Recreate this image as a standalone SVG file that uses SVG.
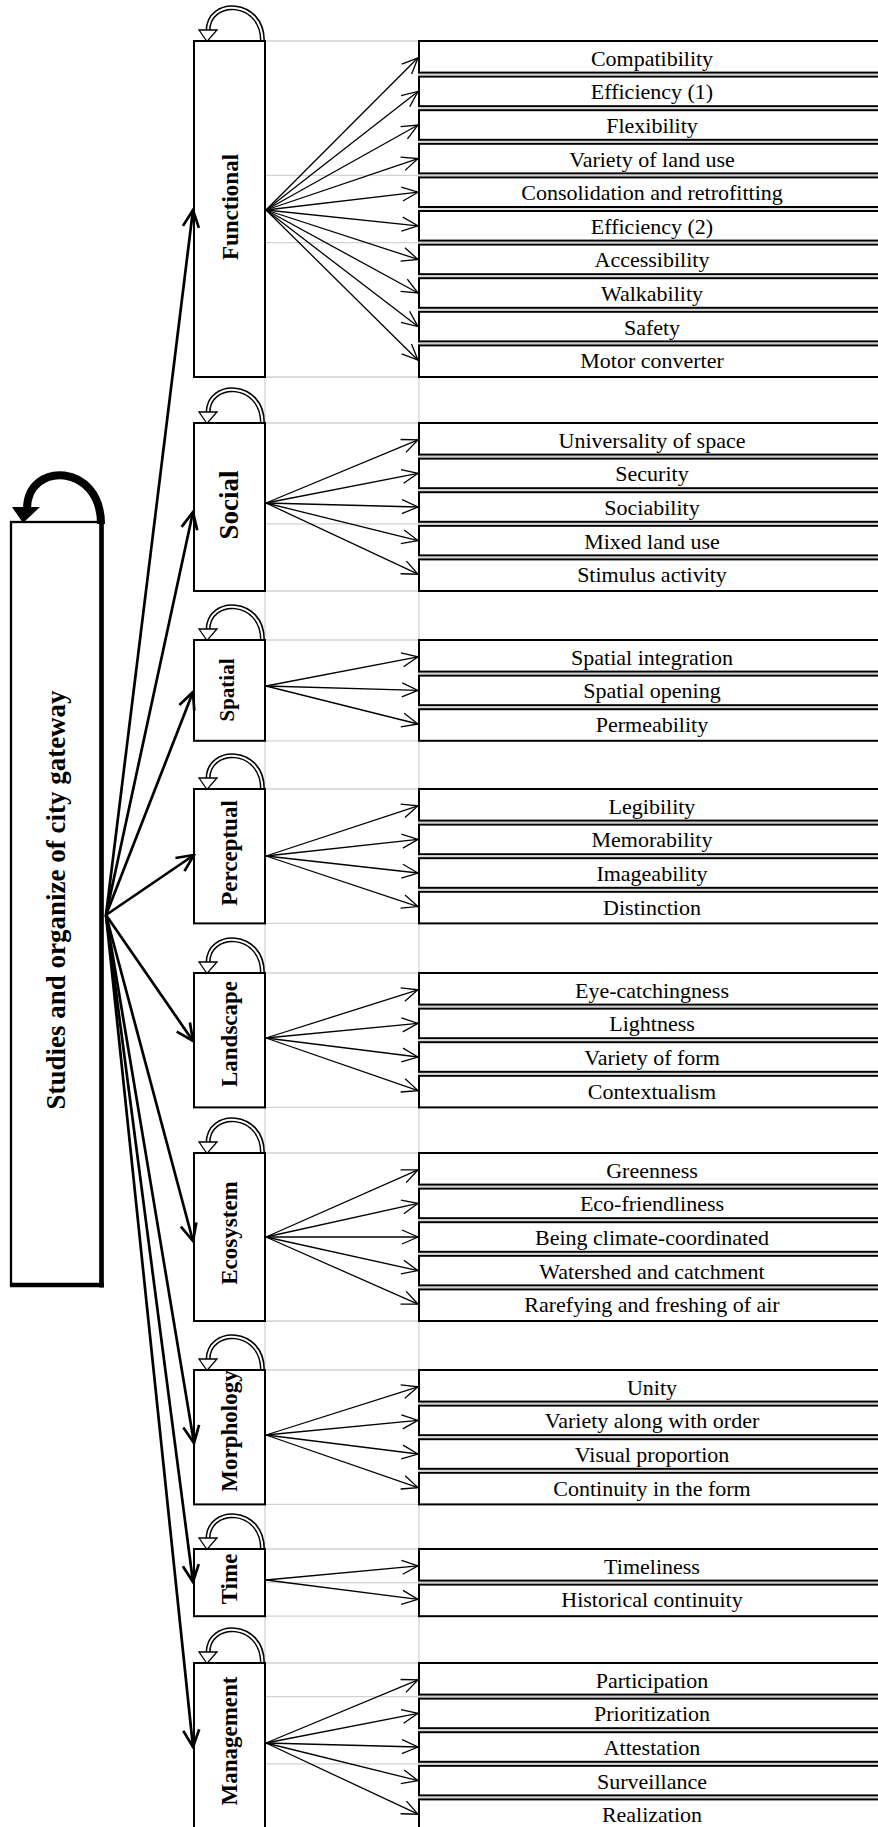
<svg xmlns="http://www.w3.org/2000/svg" xmlns:xlink="http://www.w3.org/1999/xlink" width="878" height="1827" viewBox="0 0 878 1827">
<style>
.grid{stroke:#d2d2d2;stroke-width:1.3;fill:none}
.cat{fill:#fff;stroke:#000;stroke-width:2}
.item{fill:#fff;stroke:#000;stroke-width:2}
.sep{stroke:#c8c8c8;stroke-width:1}
.it{font-family:"Liberation Serif","Times New Roman",serif;font-size:22px;text-anchor:middle;fill:#000}
.ct{font-family:"Liberation Serif","Times New Roman",serif;font-weight:bold;font-size:23px;text-anchor:middle;fill:#000}
.thin{stroke:#000;stroke-width:1.3;fill:none;marker-end:url(#ah)}
.thick{stroke:#000;stroke-width:2.7;fill:none;marker-end:url(#ahb)}
</style>
<defs>
<marker id="ah" viewBox="0 0 20 20" refX="19" refY="10" markerWidth="20" markerHeight="20" markerUnits="userSpaceOnUse" orient="auto">
<path d="M3,3 L19,10 L3,17" fill="none" stroke="#000" stroke-width="1.3"/>
</marker>
<marker id="ahb" viewBox="0 0 22 22" refX="20" refY="11" markerWidth="22" markerHeight="22" markerUnits="userSpaceOnUse" orient="auto">
<path d="M3,3 L20,11 L3,19" fill="none" stroke="#000" stroke-width="2.7"/>
</marker>
<g id="loop">
<path d="M262.5 0 C262.5 -42 208 -43 208 -10" fill="none" stroke="#000" stroke-width="5"/>
<path d="M262.5 0.5 C262.5 -42 208 -43 208 -10" fill="none" stroke="#fff" stroke-width="2"/>
<polygon points="199,-11 217,-11 207,0.5" fill="#fff" stroke="#000" stroke-width="1.3"/>
</g>
</defs>
<rect width="878" height="1827" fill="#fff"/>
<g id="grid">
<line class="grid" x1="265" y1="41" x2="265" y2="1827"/>
<line class="grid" x1="419" y1="41" x2="419" y2="1827"/>
<path class="grid" d="M265 41H419M265 175.4H419M265 242.6H419M265 377H419M265 423H419M265 523.8H419M265 591H419M265 640H419M265 740.8H419M265 789H419M265 923.4H419M265 973H419M265 1107.4H419M265 1153H419M265 1321H419M265 1370H419M265 1504.4H419M265 1549H419M265 1582.6H419M265 1616.2H419M265 1663H419M265 1696.6H419M265 1763.8H419"/>
</g>
<g id="main">
<rect x="11" y="522" width="90.5" height="763" fill="#fff" stroke="#000" stroke-width="2.3"/>
<line x1="101.5" y1="520" x2="101.5" y2="1287.4" stroke="#000" stroke-width="4.7"/>
<line x1="10" y1="1285" x2="104" y2="1285" stroke="#000" stroke-width="4.7"/>
<path d="M101 524 C101 463 28 461 27 508" fill="none" stroke="#000" stroke-width="8"/>
<polygon points="12,507 40,507 23,523" fill="#000"/>
<text class="ct" style="font-size:27px" transform="translate(65,900) rotate(-90)">Studies and organize of city gateway</text>
</g>
<g id="functional">
<use xlink:href="#loop" href="#loop" y="41"/>
<rect class="cat" x="194" y="41" width="71" height="336"/>
<text class="ct" transform="translate(238,207) rotate(-90)">Functional</text>
<rect class="item" x="419" y="41" width="481" height="31.6"/>
<rect class="item" x="419" y="76.6" width="481" height="29.6"/>
<rect class="item" x="419" y="110.2" width="481" height="29.6"/>
<rect class="item" x="419" y="143.8" width="481" height="29.6"/>
<rect class="item" x="419" y="177.4" width="481" height="29.6"/>
<rect class="item" x="419" y="211" width="481" height="29.6"/>
<rect class="item" x="419" y="244.6" width="481" height="29.6"/>
<rect class="item" x="419" y="278.2" width="481" height="29.6"/>
<rect class="item" x="419" y="311.8" width="481" height="29.6"/>
<rect class="item" x="419" y="345.4" width="481" height="31.6"/>
<path class="sep" d="M420 74.6H878M420 108.2H878M420 141.8H878M420 175.4H878M420 209H878M420 242.6H878M420 276.2H878M420 309.8H878M420 343.4H878"/>
<text class="it" x="652" y="65.8">Compatibility</text>
<text class="it" x="652" y="99.4">Efficiency (1)</text>
<text class="it" x="652" y="133">Flexibility</text>
<text class="it" x="652" y="166.6">Variety of land use</text>
<text class="it" x="652" y="200.2">Consolidation and retrofitting</text>
<text class="it" x="652" y="233.8">Efficiency (2)</text>
<text class="it" x="652" y="267.4">Accessibility</text>
<text class="it" x="652" y="301">Walkability</text>
<text class="it" x="652" y="334.6">Safety</text>
<text class="it" x="652" y="368.2">Motor converter</text>
</g>
<g id="social">
<use xlink:href="#loop" href="#loop" y="423"/>
<rect class="cat" x="194" y="423" width="71" height="168"/>
<text class="ct" style="font-size:27px" transform="translate(238,505) rotate(-90)">Social</text>
<rect class="item" x="419" y="423" width="481" height="31.6"/>
<rect class="item" x="419" y="458.6" width="481" height="29.6"/>
<rect class="item" x="419" y="492.2" width="481" height="29.6"/>
<rect class="item" x="419" y="525.8" width="481" height="29.6"/>
<rect class="item" x="419" y="559.4" width="481" height="31.6"/>
<path class="sep" d="M420 456.6H878M420 490.2H878M420 523.8H878M420 557.4H878"/>
<text class="it" x="652" y="447.8">Universality of space</text>
<text class="it" x="652" y="481.4">Security</text>
<text class="it" x="652" y="515">Sociability</text>
<text class="it" x="652" y="548.6">Mixed land use</text>
<text class="it" x="652" y="582.2">Stimulus activity</text>
</g>
<g id="spatial">
<use xlink:href="#loop" href="#loop" y="640"/>
<rect class="cat" x="194" y="640" width="71" height="100.8"/>
<text class="ct" style="font-size:21px" transform="translate(234,690) rotate(-90)">Spatial</text>
<rect class="item" x="419" y="640" width="481" height="31.6"/>
<rect class="item" x="419" y="675.6" width="481" height="29.6"/>
<rect class="item" x="419" y="709.2" width="481" height="31.6"/>
<path class="sep" d="M420 673.6H878M420 707.2H878"/>
<text class="it" x="652" y="664.8">Spatial integration</text>
<text class="it" x="652" y="698.4">Spatial opening</text>
<text class="it" x="652" y="732">Permeability</text>
</g>
<g id="perceptual">
<use xlink:href="#loop" href="#loop" y="789"/>
<rect class="cat" x="194" y="789" width="71" height="134.4"/>
<text class="ct" transform="translate(237,853) rotate(-90)">Perceptual</text>
<rect class="item" x="419" y="789" width="481" height="31.6"/>
<rect class="item" x="419" y="824.6" width="481" height="29.6"/>
<rect class="item" x="419" y="858.2" width="481" height="29.6"/>
<rect class="item" x="419" y="891.8" width="481" height="31.6"/>
<path class="sep" d="M420 822.6H878M420 856.2H878M420 889.8H878"/>
<text class="it" x="652" y="813.8">Legibility</text>
<text class="it" x="652" y="847.4">Memorability</text>
<text class="it" x="652" y="881">Imageability</text>
<text class="it" x="652" y="914.6">Distinction</text>
</g>
<g id="landscape">
<use xlink:href="#loop" href="#loop" y="973"/>
<rect class="cat" x="194" y="973" width="71" height="134.4"/>
<text class="ct" transform="translate(237,1034) rotate(-90)">Landscape</text>
<rect class="item" x="419" y="973" width="481" height="31.6"/>
<rect class="item" x="419" y="1008.6" width="481" height="29.6"/>
<rect class="item" x="419" y="1042.2" width="481" height="29.6"/>
<rect class="item" x="419" y="1075.8" width="481" height="31.6"/>
<path class="sep" d="M420 1006.6H878M420 1040.2H878M420 1073.8H878"/>
<text class="it" x="652" y="997.8">Eye-catchingness</text>
<text class="it" x="652" y="1031.4">Lightness</text>
<text class="it" x="652" y="1065">Variety of form</text>
<text class="it" x="652" y="1098.6">Contextualism</text>
</g>
<g id="ecosystem">
<use xlink:href="#loop" href="#loop" y="1153"/>
<rect class="cat" x="194" y="1153" width="71" height="168"/>
<text class="ct" transform="translate(237,1233) rotate(-90)">Ecosystem</text>
<rect class="item" x="419" y="1153" width="481" height="31.6"/>
<rect class="item" x="419" y="1188.6" width="481" height="29.6"/>
<rect class="item" x="419" y="1222.2" width="481" height="29.6"/>
<rect class="item" x="419" y="1255.8" width="481" height="29.6"/>
<rect class="item" x="419" y="1289.4" width="481" height="31.6"/>
<path class="sep" d="M420 1186.6H878M420 1220.2H878M420 1253.8H878M420 1287.4H878"/>
<text class="it" x="652" y="1177.8">Greenness</text>
<text class="it" x="652" y="1211.4">Eco-friendliness</text>
<text class="it" x="652" y="1245">Being climate-coordinated</text>
<text class="it" x="652" y="1278.6">Watershed and catchment</text>
<text class="it" x="652" y="1312.2">Rarefying and freshing of air</text>
</g>
<g id="morphology">
<use xlink:href="#loop" href="#loop" y="1370"/>
<rect class="cat" x="194" y="1370" width="71" height="134.4"/>
<text class="ct" transform="translate(237,1431) rotate(-90)">Morphology</text>
<rect class="item" x="419" y="1370" width="481" height="31.6"/>
<rect class="item" x="419" y="1405.6" width="481" height="29.6"/>
<rect class="item" x="419" y="1439.2" width="481" height="29.6"/>
<rect class="item" x="419" y="1472.8" width="481" height="31.6"/>
<path class="sep" d="M420 1403.6H878M420 1437.2H878M420 1470.8H878"/>
<text class="it" x="652" y="1394.8">Unity</text>
<text class="it" x="652" y="1428.4">Variety along with order</text>
<text class="it" x="652" y="1462">Visual proportion</text>
<text class="it" x="652" y="1495.6">Continuity in the form</text>
</g>
<g id="time">
<use xlink:href="#loop" href="#loop" y="1549"/>
<rect class="cat" x="194" y="1549" width="71" height="67.2"/>
<text class="ct" transform="translate(237,1579) rotate(-90)">Time</text>
<rect class="item" x="419" y="1549" width="481" height="31.6"/>
<rect class="item" x="419" y="1584.6" width="481" height="31.6"/>
<path class="sep" d="M420 1582.6H878"/>
<text class="it" x="652" y="1573.8">Timeliness</text>
<text class="it" x="652" y="1607.4">Historical continuity</text>
</g>
<g id="management">
<use xlink:href="#loop" href="#loop" y="1663"/>
<rect class="cat" x="194" y="1663" width="71" height="168"/>
<text class="ct" transform="translate(237,1741) rotate(-90)">Management</text>
<rect class="item" x="419" y="1663" width="481" height="31.6"/>
<rect class="item" x="419" y="1698.6" width="481" height="29.6"/>
<rect class="item" x="419" y="1732.2" width="481" height="29.6"/>
<rect class="item" x="419" y="1765.8" width="481" height="29.6"/>
<rect class="item" x="419" y="1799.4" width="481" height="31.6"/>
<path class="sep" d="M420 1696.6H878M420 1730.2H878M420 1763.8H878M420 1797.4H878"/>
<text class="it" x="652" y="1687.8">Participation</text>
<text class="it" x="652" y="1721.4">Prioritization</text>
<text class="it" x="652" y="1755">Attestation</text>
<text class="it" x="652" y="1788.6">Surveillance</text>
<text class="it" x="652" y="1822.2">Realization</text>
</g>
<g id="connectors">
<line class="thick" x1="106" y1="915" x2="193" y2="210"/>
<line class="thick" x1="106" y1="915" x2="193" y2="512"/>
<line class="thick" x1="106" y1="915" x2="193" y2="692"/>
<line class="thick" x1="106" y1="915" x2="194" y2="855"/>
<line class="thick" x1="106" y1="915" x2="193" y2="1041"/>
<line class="thick" x1="106" y1="915" x2="193" y2="1241"/>
<line class="thick" x1="106" y1="915" x2="194" y2="1443"/>
<line class="thick" x1="106" y1="915" x2="193" y2="1582"/>
<line class="thick" x1="106" y1="915" x2="193" y2="1747"/>
<line class="thin" x1="266" y1="210" x2="418" y2="57.8"/>
<line class="thin" x1="266" y1="210" x2="418" y2="91.4"/>
<line class="thin" x1="266" y1="210" x2="418" y2="125"/>
<line class="thin" x1="266" y1="210" x2="418" y2="158.6"/>
<line class="thin" x1="266" y1="210" x2="418" y2="192.2"/>
<line class="thin" x1="266" y1="210" x2="418" y2="225.8"/>
<line class="thin" x1="266" y1="210" x2="418" y2="259.4"/>
<line class="thin" x1="266" y1="210" x2="418" y2="293"/>
<line class="thin" x1="266" y1="210" x2="418" y2="326.6"/>
<line class="thin" x1="266" y1="210" x2="418" y2="360.2"/>
<line class="thin" x1="266" y1="503" x2="418" y2="439.8"/>
<line class="thin" x1="266" y1="503" x2="418" y2="473.4"/>
<line class="thin" x1="266" y1="503" x2="418" y2="507"/>
<line class="thin" x1="266" y1="503" x2="418" y2="540.6"/>
<line class="thin" x1="266" y1="503" x2="418" y2="574.2"/>
<line class="thin" x1="266" y1="686" x2="418" y2="656.8"/>
<line class="thin" x1="266" y1="686" x2="418" y2="690.4"/>
<line class="thin" x1="266" y1="686" x2="418" y2="724"/>
<line class="thin" x1="266" y1="856" x2="418" y2="805.8"/>
<line class="thin" x1="266" y1="856" x2="418" y2="839.4"/>
<line class="thin" x1="266" y1="856" x2="418" y2="873"/>
<line class="thin" x1="266" y1="856" x2="418" y2="906.6"/>
<line class="thin" x1="266" y1="1038" x2="418" y2="989.8"/>
<line class="thin" x1="266" y1="1038" x2="418" y2="1023.4"/>
<line class="thin" x1="266" y1="1038" x2="418" y2="1057"/>
<line class="thin" x1="266" y1="1038" x2="418" y2="1090.6"/>
<line class="thin" x1="266" y1="1237" x2="418" y2="1169.8"/>
<line class="thin" x1="266" y1="1237" x2="418" y2="1203.4"/>
<line class="thin" x1="266" y1="1237" x2="418" y2="1237"/>
<line class="thin" x1="266" y1="1237" x2="418" y2="1270.6"/>
<line class="thin" x1="266" y1="1237" x2="418" y2="1304.2"/>
<line class="thin" x1="266" y1="1435" x2="418" y2="1386.8"/>
<line class="thin" x1="266" y1="1435" x2="418" y2="1420.4"/>
<line class="thin" x1="266" y1="1435" x2="418" y2="1454"/>
<line class="thin" x1="266" y1="1435" x2="418" y2="1487.6"/>
<line class="thin" x1="266" y1="1580" x2="418" y2="1565.8"/>
<line class="thin" x1="266" y1="1580" x2="418" y2="1599.4"/>
<line class="thin" x1="266" y1="1743" x2="418" y2="1679.8"/>
<line class="thin" x1="266" y1="1743" x2="418" y2="1713.4"/>
<line class="thin" x1="266" y1="1743" x2="418" y2="1747"/>
<line class="thin" x1="266" y1="1743" x2="418" y2="1780.6"/>
<line class="thin" x1="266" y1="1743" x2="418" y2="1814.2"/>
</g>
</svg>
